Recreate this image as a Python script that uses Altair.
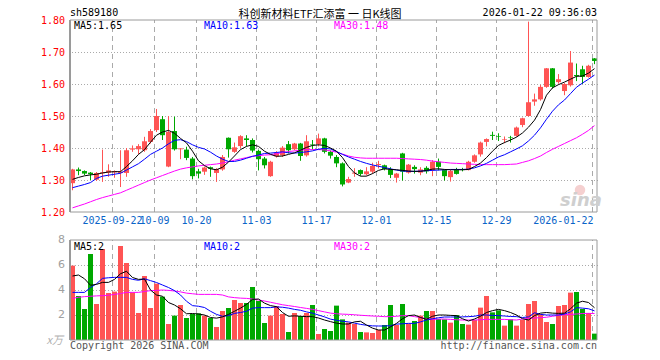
import altair as alt
import pandas as pd

# ---------------- data ----------------
open_ = [1.290,1.333,1.328,1.323,1.301,1.321,1.323,1.324,1.322,1.322,
         1.395,1.396,1.393,1.419,1.456,1.490,1.342,1.453,1.396,1.395,
         1.367,1.327,1.326,1.340,1.322,1.333,1.432,1.388,1.406,1.430,
         1.425,1.391,1.367,1.312,1.374,1.377,1.412,1.396,1.414,1.377,
         1.411,1.412,1.430,1.388,1.372,1.352,1.292,1.320,1.331,1.318,
         1.326,1.347,1.346,1.333,1.307,1.383,1.323,1.341,1.323,1.338,
         1.331,1.357,1.331,1.309,1.331,1.333,1.331,1.357,1.380,1.419,
         1.441,1.437,1.426,1.433,1.438,1.472,1.500,1.545,1.552,1.591,
         1.649,1.606,1.578,1.596,1.628,1.646,1.622,1.680]
high = [1.335,1.339,1.330,1.325,1.325,1.395,1.349,1.330,1.393,1.400,
        1.408,1.412,1.435,1.459,1.522,1.500,1.500,1.498,1.400,1.404,
        1.372,1.335,1.342,1.342,1.337,1.378,1.433,1.417,1.440,1.440,
        1.430,1.395,1.372,1.360,1.390,1.406,1.422,1.416,1.416,1.440,
        1.425,1.445,1.432,1.392,1.378,1.355,1.310,1.337,1.333,1.340,
        1.354,1.360,1.348,1.340,1.322,1.385,1.350,1.346,1.340,1.343,
        1.362,1.367,1.333,1.333,1.338,1.338,1.360,1.380,1.420,1.430,
        1.451,1.446,1.436,1.438,1.467,1.495,1.795,1.570,1.597,1.650,
        1.650,1.631,1.603,1.703,1.664,1.657,1.660,1.681]
low = [1.268,1.315,1.315,1.300,1.297,1.294,1.310,1.307,1.278,1.310,
       1.388,1.381,1.388,1.414,1.450,1.425,1.340,1.392,1.365,1.362,
       1.302,1.305,1.316,1.310,1.294,1.329,1.370,1.385,1.400,1.405,
       1.386,1.330,1.336,1.310,1.370,1.372,1.383,1.393,1.360,1.373,
       1.395,1.405,1.383,1.367,1.340,1.280,1.290,1.310,1.313,1.314,
       1.320,1.336,1.330,1.306,1.292,1.298,1.320,1.320,1.315,1.320,
       1.312,1.330,1.298,1.295,1.317,1.327,1.330,1.354,1.373,1.405,
       1.425,1.422,1.415,1.417,1.435,1.465,1.498,1.532,1.548,1.588,
       1.586,1.601,1.565,1.592,1.609,1.600,1.620,1.662]
close = [1.333,1.328,1.320,1.318,1.322,1.324,1.330,1.328,1.326,1.393,
         1.399,1.406,1.421,1.453,1.500,1.440,1.450,1.396,1.399,1.369,
         1.312,1.320,1.339,1.335,1.334,1.372,1.396,1.402,1.437,1.425,
         1.392,1.365,1.346,1.357,1.385,1.401,1.393,1.414,1.375,1.421,
         1.409,1.430,1.388,1.376,1.352,1.286,1.303,1.323,1.319,1.327,
         1.344,1.350,1.334,1.316,1.320,1.326,1.348,1.334,1.333,1.327,
         1.357,1.341,1.312,1.328,1.319,1.331,1.357,1.377,1.417,1.428,
         1.438,1.435,1.428,1.431,1.464,1.493,1.543,1.552,1.591,1.649,
         1.591,1.615,1.600,1.667,1.625,1.622,1.657,1.672]
volume = [5.95,3.52,2.48,6.88,2.88,7.28,3.76,3.87,7.52,6.16,
          3.81,2.16,5.12,2.56,4.51,3.47,1.28,1.95,2.80,1.76,
          2.08,2.13,1.95,1.76,1.04,2.32,2.56,3.20,2.96,2.96,
          4.24,3.12,1.36,1.95,2.72,2.08,0.64,2.16,1.92,2.16,
          2.80,0.48,0.88,0.72,2.75,1.65,1.39,1.28,0.64,0.61,
          0.56,0.80,1.20,2.80,1.20,2.88,1.31,1.52,1.95,2.32,
          2.32,1.68,1.65,1.39,2.00,1.28,1.23,1.60,2.59,3.52,
          2.21,2.37,1.15,1.65,1.15,1.60,2.88,3.12,2.08,1.44,
          1.28,2.72,2.80,3.79,3.84,2.48,2.16,0.51]
ma5 = [1.302,1.308,1.313,1.316,1.318,1.322,1.325,1.326,1.326,1.342,
       1.360,1.380,1.395,1.418,1.440,1.450,1.455,1.446,1.430,1.416,
       1.390,1.360,1.345,1.335,1.332,1.340,1.356,1.375,1.395,1.405,
       1.410,1.405,1.390,1.380,1.374,1.375,1.380,1.385,1.393,1.402,
       1.408,1.410,1.408,1.400,1.390,1.370,1.342,1.322,1.312,1.312,
       1.320,1.330,1.335,1.333,1.332,1.330,1.328,1.327,1.327,1.330,
       1.334,1.335,1.333,1.332,1.332,1.332,1.333,1.342,1.353,1.370,
       1.390,1.408,1.417,1.425,1.434,1.447,1.465,1.487,1.520,1.565,
       1.588,1.598,1.606,1.615,1.624,1.625,1.634,1.648]
ma10 = [1.276,1.281,1.286,1.292,1.305,1.312,1.315,1.318,1.321,1.331,
        1.341,1.351,1.365,1.380,1.390,1.400,1.413,1.424,1.426,1.420,
        1.410,1.402,1.397,1.387,1.375,1.365,1.358,1.358,1.362,1.368,
        1.374,1.378,1.383,1.384,1.386,1.388,1.385,1.384,1.386,1.388,
        1.391,1.396,1.399,1.397,1.389,1.380,1.372,1.365,1.358,1.352,
        1.347,1.343,1.339,1.335,1.331,1.328,1.327,1.327,1.328,1.329,
        1.330,1.331,1.332,1.333,1.333,1.333,1.334,1.338,1.344,1.352,
        1.362,1.372,1.379,1.388,1.397,1.407,1.422,1.440,1.463,1.490,
        1.515,1.535,1.550,1.570,1.590,1.603,1.615,1.628]
ma30 = [1.213,1.219,1.225,1.232,1.239,1.245,1.250,1.255,1.260,1.268,
        1.276,1.284,1.292,1.300,1.307,1.314,1.321,1.328,1.334,1.338,
        1.341,1.344,1.346,1.348,1.350,1.353,1.357,1.362,1.366,1.370,
        1.374,1.376,1.378,1.379,1.382,1.386,1.389,1.391,1.393,1.395,
        1.395,1.395,1.394,1.391,1.387,1.381,1.375,1.371,1.369,1.368,
        1.368,1.368,1.368,1.368,1.368,1.367,1.366,1.365,1.364,1.362,
        1.359,1.357,1.355,1.353,1.352,1.351,1.350,1.349,1.348,1.348,
        1.348,1.348,1.348,1.349,1.350,1.355,1.360,1.367,1.375,1.386,
        1.396,1.405,1.414,1.423,1.432,1.443,1.455,1.470]
vma5 = [5.12,5.20,4.90,4.38,4.45,4.61,4.61,4.85,5.30,5.50,
        5.00,4.85,4.88,4.00,3.60,3.50,3.00,2.80,2.50,2.10,
        2.12,2.08,2.00,1.80,1.75,1.85,2.05,2.30,2.55,2.85,
        3.25,3.28,2.95,2.75,2.67,2.20,1.90,1.93,1.90,1.87,
        1.87,1.76,1.60,1.47,1.35,1.28,1.28,1.45,1.50,1.20,
        0.95,0.80,0.80,1.05,1.33,1.70,1.95,2.00,1.80,1.66,
        1.90,2.00,2.00,1.97,1.95,1.70,1.52,1.68,1.90,2.20,
        2.35,2.45,2.35,2.20,2.00,1.70,1.60,1.95,2.15,2.20,
        2.15,2.13,2.15,2.50,2.95,3.10,3.00,2.58]
vma10 = [3.81,3.81,3.81,4.20,4.50,4.93,4.98,5.01,5.01,5.01,
         4.85,4.78,4.90,4.75,4.60,4.40,4.20,3.95,3.60,3.10,
         2.75,2.70,2.60,2.30,2.05,1.90,1.95,2.13,2.20,2.30,
         2.55,2.59,2.59,2.59,2.65,2.62,2.55,2.45,2.38,2.25,
         2.15,2.00,1.85,1.67,1.58,1.50,1.45,1.35,1.25,1.18,
         1.13,1.12,1.12,1.15,1.27,1.30,1.33,1.33,1.45,1.60,
         1.70,1.78,1.84,1.84,1.84,1.85,1.87,1.90,2.00,2.00,
         1.97,1.95,1.92,1.88,1.87,1.80,1.85,2.18,2.05,2.00,
         2.00,2.00,2.08,2.25,2.59,2.55,2.50,2.33]
vma30 = [3.33,3.42,3.47,3.50,3.53,3.55,3.58,3.65,3.72,3.81,
         3.81,3.81,3.88,3.95,3.97,4.00,3.97,3.92,3.85,3.75,
         3.70,3.65,3.65,3.65,3.65,3.60,3.45,3.39,3.35,3.33,
         3.28,3.20,3.12,3.02,2.92,2.82,2.75,2.68,2.60,2.53,
         2.45,2.35,2.25,2.15,2.10,2.07,2.05,2.02,1.98,1.95,
         1.92,1.90,1.87,1.87,1.90,1.95,1.95,1.87,1.80,1.70,
         1.65,1.67,1.68,1.65,1.62,1.60,1.60,1.60,1.62,1.65,
         1.65,1.65,1.65,1.62,1.60,1.68,1.73,1.76,1.79,1.82,
         1.90,1.97,2.02,2.05,2.08,2.12,2.13,2.12]

tick_idx = [7, 14, 21, 31, 41, 51, 61, 71, 87]
tick_labels = ["2025-09-22", "10-09", "10-20", "11-03", "11-17",
               "12-01", "12-15", "12-29", "2026-01-22"]
price_ticks = [1.20, 1.30, 1.40, 1.50, 1.60, 1.70, 1.80]
price_grid = [1.30, 1.40, 1.50, 1.60, 1.70]
vol_ticks = [2, 4, 6, 8]
vol_grid = [2, 4, 6]

code = "sh589180"
title = "科创新材料ETF汇添富 一 日K线图"
stamp = "2026-01-22 09:36:03"
ma_price_labels = ["MA5:1.65", "MA10:1.63", "MA30:1.48"]
ma_vol_labels = ["MA5:2", "MA10:2", "MA30:2"]

# ---------------- styling ----------------
RED = "#ff5454"
GREEN = "#00a800"
MONO = "DejaVu Sans Mono"
N = len(open_)
W = 6 * N  # 6px per trading day

df = pd.DataFrame({"i": list(range(N)), "open": open_, "high": high, "low": low,
                   "close": close, "vol": volume, "ma5": ma5, "ma10": ma10,
                   "ma30": ma30, "vma5": vma5, "vma10": vma10, "vma30": vma30})
df["xc"] = df["i"] + 5 / 12
df["x2"] = df["i"] + 5 / 6

xs = alt.Scale(domain=[0, N], nice=False, zero=False)
ps = alt.Scale(domain=[0.8, 1.8], nice=False, zero=False)
vs = alt.Scale(domain=[0, 25.6], nice=False, zero=False)

color_cond = alt.when(alt.datum.close >= alt.datum.open).then(alt.value(RED)).otherwise(alt.value(GREEN))

base = alt.Chart(df)

# frames
frame_df = pd.DataFrame({"x0": [0], "x1": [N - 1 / 6], "p0": [1.2], "p1": [1.8], "v0": [0], "v1": [8]})
frame_p = alt.Chart(frame_df).mark_rect(fillOpacity=0, stroke="#9a9a9a", strokeWidth=1).encode(
    x=alt.X("x0:Q", scale=xs, axis=None), x2="x1:Q",
    y=alt.Y("p0:Q", scale=ps, axis=None), y2="p1:Q")
frame_v = alt.Chart(frame_df).mark_rect(fillOpacity=0, stroke="#9a9a9a", strokeWidth=1).encode(
    x=alt.X("x0:Q", scale=xs, axis=None), x2="x1:Q",
    y=alt.Y("v0:Q", scale=vs, axis=None), y2="v1:Q")
left_p = alt.Chart(frame_df).mark_rule(color="#9a9a9a", strokeWidth=2).encode(
    x=alt.X("x0:Q", scale=xs, axis=None),
    y=alt.Y("p0:Q", scale=ps, axis=None), y2="p1:Q")
left_v = alt.Chart(frame_df).mark_rule(color="#9a9a9a", strokeWidth=2).encode(
    x=alt.X("x0:Q", scale=xs, axis=None),
    y=alt.Y("v0:Q", scale=vs, axis=None), y2="v1:Q")

# grids
pg = pd.DataFrame({"p": price_grid})
vg = pd.DataFrame({"v": vol_grid})
grid_p = alt.Chart(pg).mark_rule(color="#aaaaaa", strokeDash=[1, 2], yOffset=0.5).encode(
    y=alt.Y("p:Q", scale=ps, axis=None))
grid_v = alt.Chart(vg).mark_rule(color="#aaaaaa", strokeDash=[1, 2], yOffset=0.5).encode(
    y=alt.Y("v:Q", scale=vs, axis=None))
tdf = pd.DataFrame({"idx": tick_idx, "lab": tick_labels})
tdf["t"] = tdf["idx"] + 1 / 12
tdf["p0"] = 1.2
tdf["p1"] = 1.8
tdf["v0"] = 0
tdf["v1"] = 8
vline_p = alt.Chart(tdf).mark_rule(color="#aaaaaa", strokeDash=[5, 4]).encode(
    x=alt.X("t:Q", scale=xs, axis=None), y=alt.Y("p0:Q", scale=ps, axis=None), y2="p1:Q")
vline_v = alt.Chart(tdf).mark_rule(color="#aaaaaa", strokeDash=[5, 4]).encode(
    x=alt.X("t:Q", scale=xs, axis=None), y=alt.Y("v0:Q", scale=vs, axis=None), y2="v1:Q")

# candles
wick = base.mark_rule(strokeWidth=1).encode(
    x=alt.X("xc:Q", scale=xs, axis=None),
    y=alt.Y("low:Q", scale=ps, axis=None), y2="high:Q", color=color_cond)
body = base.mark_rect().encode(
    x=alt.X("i:Q", scale=xs, axis=None), x2="x2:Q",
    y=alt.Y("open:Q", scale=ps, axis=None), y2="close:Q", color=color_cond)

def line(field, scale, col):
    return base.mark_line(strokeWidth=1, color=col, interpolate="linear").encode(
        x=alt.X("xc:Q", scale=xs, axis=None),
        y=alt.Y(f"{field}:Q", scale=scale, axis=None))

lines_p = [line("ma30", ps, "#ff00ff"), line("ma10", ps, "#0000ff"), line("ma5", ps, "#000000")]

# volume
vbars = base.mark_rect().encode(
    x=alt.X("i:Q", scale=xs, axis=None), x2="x2:Q",
    y=alt.Y("vol:Q", scale=vs, axis=None), y2=alt.datum(0), color=color_cond)
lines_v = [line("vma30", vs, "#ff00ff"), line("vma10", vs, "#0000ff"), line("vma5", vs, "#000000")]

# text
pt = pd.DataFrame({"p": price_ticks, "lab": [f"{v:.2f}" for v in price_ticks]})
price_lab = alt.Chart(pt).mark_text(align="right", baseline="middle", font=MONO, fontSize=10,
                                    color="#ff0000", dy=1).encode(
    x=alt.value(-5), y=alt.Y("p:Q", scale=ps, axis=None), text="lab:N")
vt = pd.DataFrame({"v": vol_ticks, "lab": [str(v) for v in vol_ticks]})
vol_lab = alt.Chart(vt).mark_text(align="right", baseline="middle", font="DejaVu Sans", fontSize=11,
                                  color="#a0a0a0").encode(
    x=alt.value(-5), y=alt.Y("v:Q", scale=vs, axis=None), text="lab:N")
unit_lab = alt.Chart(pd.DataFrame({"t": ["x万"]})).mark_text(
    align="right", baseline="middle", font="Noto Sans CJK SC", fontSize=11, fontStyle="italic",
    color="#b0b0b0").encode(x=alt.value(-7), y=alt.value(321), text="t:N")

date_lab = alt.Chart(tdf.iloc[:-1]).mark_text(baseline="middle", font=MONO, fontSize=10,
                                             color="#0a64c8").encode(
    x=alt.X("t:Q", scale=xs, axis=None), y=alt.value(201), text="lab:N")
date_last = alt.Chart(tdf.iloc[-1:]).mark_text(baseline="middle", align="right", font=MONO, fontSize=10,
                                              color="#0a64c8", dx=1).encode(
    x=alt.X("t:Q", scale=xs, axis=None), y=alt.value(201), text="lab:N")

def txt(s, x, y, align="left", color="#000000", font=MONO, size=10, **kw):
    return alt.Chart(pd.DataFrame({"t": [s]})).mark_text(
        align=align, baseline="middle", font=font, fontSize=size, color=color, **kw).encode(
        x=alt.value(x), y=alt.value(y), text="t:N")

ma_cols = ["#000000", "#0000ff", "#ff00ff"]
ma_x = [4, 134, 264]
texts = [
    txt(code, 0, -7),
    txt(title, 250, -5, align="center", font="Noto Sans CJK SC", size=11),
    txt(stamp, W - 1, -7, align="right"),
    txt("Copyright 2026 SINA.COM", 0, 326, color="#555555"),
    txt("http://finance.sina.com.cn", W - 1, 326, align="right", color="#555555"),
    txt("sina", 511, 181, align="center", color="#cfcfcf", font="DejaVu Sans", size=18,
        fontStyle="italic", fontWeight="bold"),
]
logo = alt.Chart(pd.DataFrame({"t": ["logo"]})).mark_point(
    shape="circle", filled=True, size=110, color="#f3c4c4", opacity=0.8).encode(
    x=alt.value(510), y=alt.value(170))
for lab, c, x in zip(ma_price_labels, ma_cols, ma_x):
    texts.append(txt(lab, x, 6, color=c))
for lab, c, x in zip(ma_vol_labels, ma_cols, ma_x):
    texts.append(txt(lab, x, 227, color=c))

chart = alt.layer(
    grid_p, vline_p, grid_v, vline_v, logo,
    wick, body, *lines_p,
    vbars, *lines_v,
    frame_p, frame_v, left_p, left_v,
    price_lab, vol_lab, unit_lab, date_lab, date_last, *texts,
).resolve_scale(y="independent").properties(
    width=W, height=320,
    autosize=alt.AutoSizeParams(type="none"),
    padding={"left": 62, "top": 12, "right": 50, "bottom": 20},
    background="white",
).configure_view(stroke=None)

chart.save("out.html", embed_options={"renderer": "svg", "actions": False})
